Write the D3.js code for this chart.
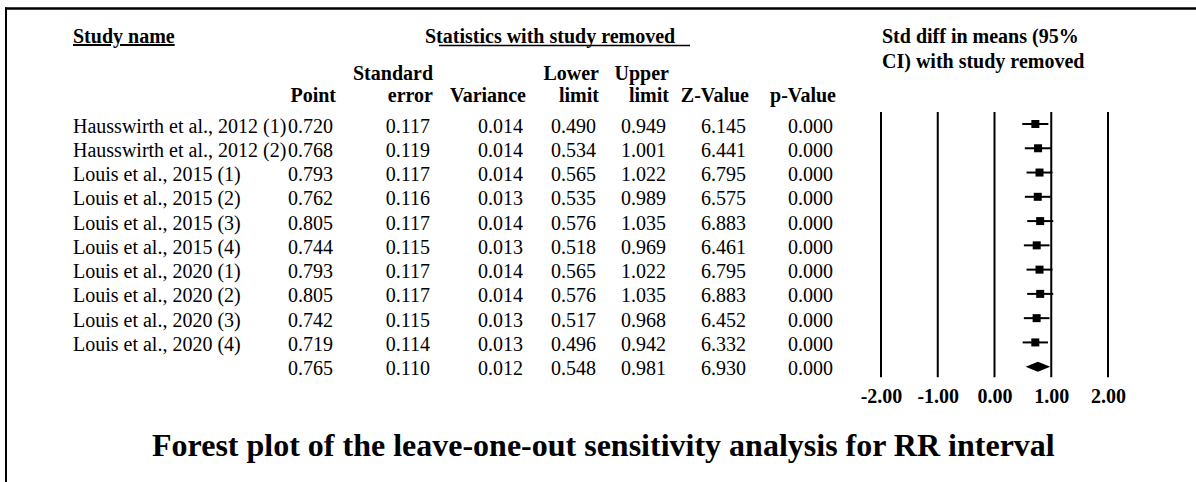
<!DOCTYPE html>
<html>
<head>
<meta charset="utf-8">
<script src="https://cdn.jsdelivr.net/npm/d3@7/dist/d3.min.js"></script>
<style>
  html, body { margin: 0; padding: 0; background: #fff; }
  svg { display: block; }
  text { font-family: "Liberation Serif", "Times New Roman", serif; fill: #000; }
</style>
</head>
<body>
<svg id="chart" width="1196" height="482"></svg>
<script>
// ---------- data ----------
const studies = [
  "Hausswirth et al., 2012 (1)",
  "Hausswirth et al., 2012 (2)",
  "Louis et al., 2015 (1)",
  "Louis et al., 2015 (2)",
  "Louis et al., 2015 (3)",
  "Louis et al., 2015 (4)",
  "Louis et al., 2020 (1)",
  "Louis et al., 2020 (2)",
  "Louis et al., 2020 (3)",
  "Louis et al., 2020 (4)"
];
const pointEst = [0.720, 0.768, 0.793, 0.762, 0.805, 0.744, 0.793, 0.805, 0.742, 0.719];
const stdErr   = [0.117, 0.119, 0.117, 0.116, 0.117, 0.115, 0.117, 0.117, 0.115, 0.114];
const variance = [0.014, 0.014, 0.014, 0.013, 0.014, 0.013, 0.014, 0.014, 0.013, 0.013];
const lowerLim = [0.490, 0.534, 0.565, 0.535, 0.576, 0.518, 0.565, 0.576, 0.517, 0.496];
const upperLim = [0.949, 1.001, 1.022, 0.989, 1.035, 0.969, 1.022, 1.035, 0.968, 0.942];
const zValue   = [6.145, 6.441, 6.795, 6.575, 6.883, 6.461, 6.795, 6.883, 6.452, 6.332];
const pValue   = [0.000, 0.000, 0.000, 0.000, 0.000, 0.000, 0.000, 0.000, 0.000, 0.000];
// overall (summary) row
const summaryRow = { point: 0.765, se: 0.110, variance: 0.012, lower: 0.548, upper: 0.981, z: 6.930, p: 0.000 };
const axisTicks = [-2, -1, 0, 1, 2];
const title = "Forest plot of the leave-one-out sensitivity analysis for RR interval";

// ---------- layout ----------
const svg = d3.select("#chart");
const FONT = 20;
const nRows = studies.length + 1;

const x = d3.scaleLinear().domain([-2, 2]).range([881, 1108]);
const y = d3.scaleLinear().domain([0, nRows - 1]).range([124, 366.7]);

// frame
svg.append("line").attr("x1", 5).attr("x2", 1196).attr("y1", 8.5).attr("y2", 8.5)
  .attr("stroke", "#000").attr("stroke-width", 2.5);
svg.append("line").attr("x1", 6).attr("x2", 6).attr("y1", 7.5).attr("y2", 482)
  .attr("stroke", "#000").attr("stroke-width", 2);

// ---------- headers ----------
const bold = s => s.attr("font-weight", "bold").attr("font-size", FONT);
bold(svg.append("text").attr("x", 73).attr("y", 43).text("Study name"))
  .attr("text-decoration", "underline");
bold(svg.append("text").attr("x", 425).attr("y", 43).text("Statistics with study removed"));
svg.append("line").attr("x1", 439).attr("x2", 690).attr("y1", 45.5).attr("y2", 45.5)
  .attr("stroke", "#000").attr("stroke-width", 1.5);
bold(svg.append("text").attr("x", 882).attr("y", 43).text("Std diff in means (95%"));
bold(svg.append("text").attr("x", 882).attr("y", 68).text("CI) with study removed"));

const cols = [
  { key: "point", right: 333, head: ["", "Point"] },
  { key: "se", right: 430, head: ["Standard", "error"] },
  { key: "variance", right: 523, head: ["", "Variance"] },
  { key: "lower", right: 596, head: ["Lower", "limit"] },
  { key: "upper", right: 666, head: ["Upper", "limit"] },
  { key: "z", right: 746, head: ["", "Z-Value"] },
  { key: "p", right: 833, head: ["", "p-Value"] }
];
cols.forEach(c => {
  c.head.forEach((h, i) => {
    if (!h) return;
    bold(svg.append("text").attr("x", c.right + 3).attr("y", i === 0 ? 80 : 102)
      .attr("text-anchor", "end").text(h));
  });
});

// ---------- rows ----------
const rows = studies.map((s, i) => ({
  name: s, point: pointEst[i], se: stdErr[i], variance: variance[i],
  lower: lowerLim[i], upper: upperLim[i], z: zValue[i], p: pValue[i], summary: false
}));
rows.push(Object.assign({ name: "", summary: true }, summaryRow));

const fmt = d3.format(".3f");
const rowG = svg.selectAll("g.row").data(rows).join("g").attr("class", "row")
  .attr("transform", (d, i) => `translate(0,${y(i)})`);

rowG.append("text").attr("x", 73).attr("y", 8.5).attr("font-size", FONT).text(d => d.name);
cols.forEach(c => {
  rowG.append("text").attr("x", c.right).attr("y", 8.5).attr("font-size", FONT)
    .attr("text-anchor", "end").text(d => fmt(d[c.key]));
});

// ---------- forest plot ----------
// vertical reference lines
svg.selectAll("line.grid").data(axisTicks).join("line").attr("class", "grid")
  .attr("x1", d => x(d)).attr("x2", d => x(d))
  .attr("y1", y(0) - 12).attr("y2", y(nRows - 1) + 10.6)
  .attr("stroke", "#000").attr("stroke-width", 2);

const studyRows = rowG.filter(d => !d.summary);
studyRows.append("line")
  .attr("x1", d => x(d.lower)).attr("x2", d => x(d.upper))
  .attr("y1", 0).attr("y2", 0).attr("stroke", "#000").attr("stroke-width", 2);
studyRows.append("rect")
  .attr("x", d => x(d.point) - 4).attr("y", -4).attr("width", 8).attr("height", 8)
  .attr("fill", "#000");

rowG.filter(d => d.summary).append("path")
  .attr("d", d => `M${x(d.lower)},0 L${x(d.point)},-5 L${x(d.upper)},0 L${x(d.point)},5 Z`)
  .attr("fill", "#000");

// axis labels (ASCII hyphen for negatives, as in the original)
const axis = d3.axisBottom(x).tickValues(axisTicks).tickFormat(d => d.toFixed(2))
  .tickSize(0).tickPadding(12);
const axG = svg.append("g").attr("transform", `translate(0,${y(nRows - 1) + 10.6})`).call(axis);
axG.select(".domain").remove();
axG.selectAll("text").attr("font-size", FONT).attr("font-weight", "bold")
  .attr("font-family", "'Liberation Serif', 'Times New Roman', serif").attr("fill", "#000");

// ---------- title ----------
svg.append("text").attr("x", 152).attr("y", 456).attr("font-size", 32)
  .attr("font-weight", "bold").text(title);
</script>
</body>
</html>
